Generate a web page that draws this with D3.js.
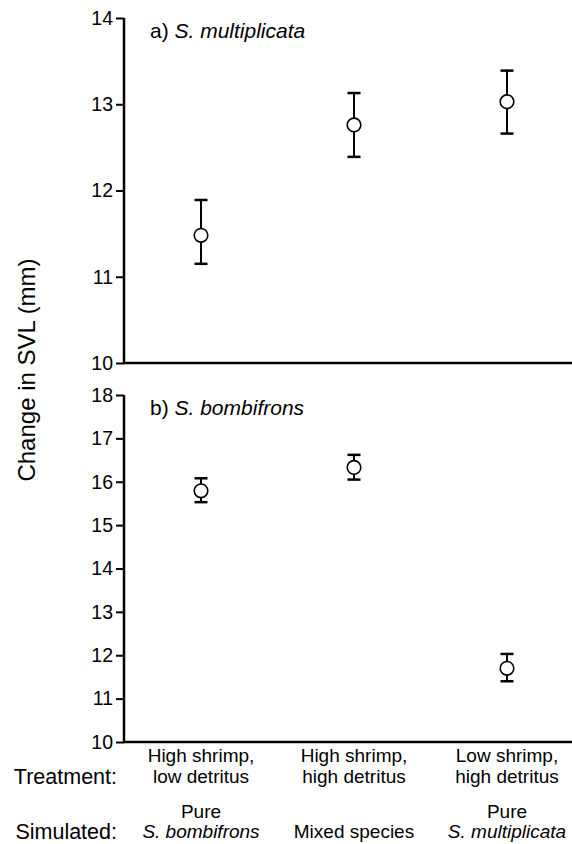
<!DOCTYPE html>
<html>
<head>
<meta charset="utf-8">
<script src="https://cdn.jsdelivr.net/npm/d3@7"></script>
<style>
  body { margin: 0; background: #fff; }
  svg { display: block; font-family: "Liberation Sans", Arial, Helvetica, sans-serif; }
</style>
</head>
<body>
<svg id="chart" width="572" height="844"></svg>
<script>
// categories (treatments)
var categories = ["hsld", "hshd", "lshd"];
var treatmentLines = [["High shrimp,", "low detritus"], ["High shrimp,", "high detritus"], ["Low shrimp,", "high detritus"]];
var simulatedTop = ["Pure", "", "Pure"];
var simulatedBottom = ["S. bombifrons", "Mixed species", "S. multiplicata"];
var simulatedItalic = [true, false, true];

// a) S. multiplicata - mean, lower, upper
var multMean = [11.48, 12.76, 13.03];
var multLow = [11.15, 12.39, 12.66];
var multHigh = [11.89, 13.13, 13.39];

// b) S. bombifrons - mean, lower, upper
var bombMean = [15.79, 16.33, 11.70];
var bombLow = [15.53, 16.05, 11.40];
var bombHigh = [16.08, 16.62, 12.03];

var multTicks = [10, 11, 12, 13, 14];
var bombTicks = [10, 11, 12, 13, 14, 15, 16, 17, 18];

var svg = d3.select("#chart");
var axisX = 124, rightX = 572;

//shared x scale
var x = d3.scalePoint().domain(categories).range([201, 507]);

function drawPanel(yTop, yBottom, domain, ticks, mean, low, high, prefix, species) {
  var y = d3.scaleLinear().domain(domain).range([yBottom, yTop]);
  var g = svg.append("g");

  // -- y axis
  var ax = g.append("g")
    .attr("transform", "translate(" + axisX + ",0)")
    .call(d3.axisLeft(y).tickValues(ticks).tickSize(8).tickPadding(3).tickFormat(d3.format("d")));
  ax.select(".domain").remove();
  ax.selectAll(".tick line").attr("stroke", "#000").attr("stroke-width", 2);
  ax.selectAll(".tick text").attr("font-size", 19.5).attr("fill", "#000")
    .attr("font-family", "Liberation Sans, Arial, sans-serif");
  g.append("line")
    .attr("x1", axisX).attr("x2", axisX)
    .attr("y1", y(domain[1])).attr("y2", y(domain[0]))
    .attr("stroke", "#000").attr("stroke-width", 2.5);
  // -- x baseline
  g.append("line")
    .attr("x1", axisX - 1).attr("x2", rightX)
    .attr("y1", y(domain[0])).attr("y2", y(domain[0]))
    .attr("stroke", "#000").attr("stroke-width", 2.5);

  // -- panel title
  var t = g.append("text")
    .attr("x", 150).attr("y", yTop + 20)
    .attr("font-size", 21);
  t.append("tspan").text(prefix + " ");
  t.append("tspan").attr("font-style", "italic").text(species);

  // -- error bars
  categories.forEach(function(c, i) {
    var cx = x(c);
    g.append("line")
      .attr("x1", cx).attr("x2", cx)
      .attr("y1", y(low[i])).attr("y2", y(high[i]))
      .attr("stroke", "#000").attr("stroke-width", 2);
    [low[i], high[i]].forEach(function(v) {
      g.append("line")
        .attr("x1", cx - 6.5).attr("x2", cx + 6.5)
        .attr("y1", y(v)).attr("y2", y(v))
        .attr("stroke", "#000").attr("stroke-width", 2.5);
    });
    g.append("circle")
      .attr("cx", cx).attr("cy", y(mean[i]))
      .attr("r", 6.8)
      .attr("fill", "#fff").attr("stroke", "#000").attr("stroke-width", 1.6);
  });
}

drawPanel(18, 363, [10, 14], multTicks, multMean, multLow, multHigh, "a)", "S. multiplicata");
drawPanel(395, 742, [10, 18], bombTicks, bombMean, bombLow, bombHigh, "b)", "S. bombifrons");

// y label
svg.append("text")
  .attr("transform", "translate(35,370) rotate(-90)")
  .attr("text-anchor", "middle")
  .attr("font-size", 24)
  .text("Change in SVL (mm)");

// bottom labels
svg.append("text").attr("x", 117).attr("y", 784).attr("text-anchor", "end")
  .attr("font-size", 21.5).text("Treatment:");
svg.append("text").attr("x", 117).attr("y", 839).attr("text-anchor", "end")
  .attr("font-size", 21.5).text("Simulated:");

categories.forEach(function(c, i) {
  treatmentLines[i].forEach(function(line, j) {
    svg.append("text")
      .attr("x", x(c)).attr("y", 762 + j * 21)
      .attr("text-anchor", "middle").attr("font-size", 19)
      .text(line);
  });
  svg.append("text")
    .attr("x", x(c)).attr("y", 818)
    .attr("text-anchor", "middle").attr("font-size", 19)
    .text(simulatedTop[i]);
  svg.append("text")
    .attr("x", x(c)).attr("y", 838)
    .attr("text-anchor", "middle").attr("font-size", 19)
    .attr("font-style", simulatedItalic[i] ? "italic" : "normal")
    .text(simulatedBottom[i]);
});
</script>
</body>
</html>
